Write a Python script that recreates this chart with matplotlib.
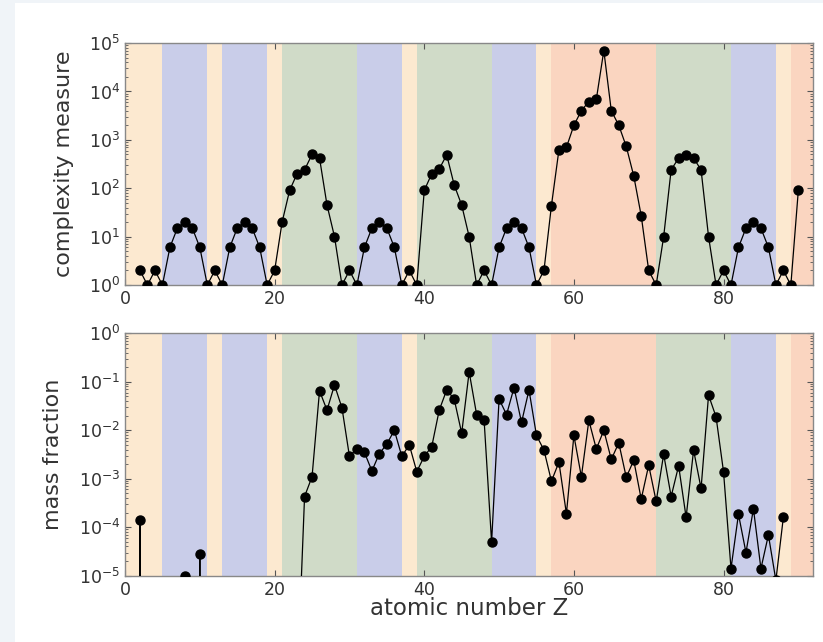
import matplotlib
matplotlib.use('Agg')
import matplotlib.pyplot as plt
from matplotlib.ticker import LogLocator, NullFormatter, FixedLocator
from matplotlib.patches import Rectangle

# ---- data ----
Z_complexity = list(range(2, 91))
complexity = [2, 1, 2, 1, 6, 15, 20, 15, 6, 1,            # 2-11
              2, 1, 6, 15, 20, 15, 6, 1, 2, 20,           # 12-21
              90, 200, 240, 500, 420, 45, 10, 1, 2, 1,    # 22-31
              6, 15, 20, 15, 6, 1, 2, 1, 90, 200,         # 32-41
              250, 490, 117, 45, 10, 1, 2, 1, 6, 15,      # 42-51
              20, 15, 6, 1, 2, 44, 620, 700, 2000, 4000,  # 52-61
              6200, 6900, 70000, 4000, 2000, 730, 180, 27, 2, 1,  # 62-71
              10, 240, 420, 490, 420, 240, 10, 1, 2, 1,   # 72-81
              6, 15, 20, 15, 6, 1, 2, 1, 90]              # 82-90

Z_mass = list(range(1, 89))
mass_fraction = [0, 1.4e-4, 0, 0, 0, 0, 0, 1.0e-5, 0, 2.8e-5,          # 1-10
                 0, 0, 0, 0, 0, 0, 0, 0, 0, 0,                          # 11-20
                 0, 0, 5e-8, 4.3e-4, 1.1e-3, 0.065, 0.026, 0.086, 0.029, 2.9e-3,  # 21-30
                 4.2e-3, 3.5e-3, 1.45e-3, 3.3e-3, 5.2e-3, 0.010, 2.9e-3, 5.0e-3, 1.4e-3, 2.9e-3,  # 31-40
                 4.6e-3, 0.026, 0.068, 0.044, 8.7e-3, 0.16, 0.021, 0.016, 4.9e-5, 0.044,  # 41-50
                 0.021, 0.076, 0.0145, 0.068, 7.8e-3, 3.9e-3, 8.9e-4, 2.2e-3, 1.9e-4, 7.8e-3,  # 51-60
                 1.1e-3, 0.016, 4.1e-3, 0.010, 2.5e-3, 5.5e-3, 1.07e-3, 2.4e-3, 3.8e-4, 1.9e-3,  # 61-70
                 3.4e-4, 3.2e-3, 4.3e-4, 1.85e-3, 1.6e-4, 3.9e-3, 6.3e-4, 0.053, 0.019, 1.4e-3,  # 71-80
                 1.4e-5, 1.85e-4, 3.0e-5, 2.4e-4, 1.4e-5, 6.9e-5, 8e-6, 1.6e-4]  # 81-88

band_start = [0, 5, 11, 13, 19, 21, 31, 37, 39, 49, 55, 57, 71, 81, 87, 89]
band_end = [5, 11, 13, 19, 21, 31, 37, 39, 49, 55, 57, 71, 81, 87, 89, 92]
band_block = ['s', 'p', 's', 'p', 's', 'd', 'p', 's', 'd', 'p', 's', 'f', 'd', 'p', 's', 'f']
block_colors = {'s': '#fce9d0', 'p': '#c9cde9', 'd': '#d0dbc8', 'f': '#fad5c0'}

x_ticks = [0, 20, 40, 60, 80]
x_limits = (0, 92)

text_color = '#333333'
spine_color = '#888888'

fig = plt.figure(figsize=(8.23, 6.42), dpi=100)
fig.patches.append(Rectangle((0, 0), 15 / 823, 1, transform=fig.transFigure,
                             facecolor='#f0f4f8', edgecolor='none', zorder=-5))
fig.patches.append(Rectangle((0, 1 - 3 / 642), 1, 3 / 642, transform=fig.transFigure,
                             facecolor='#f0f4f8', edgecolor='none', zorder=-5))

ax1 = fig.add_axes([0.1519, 0.556, 0.8363, 0.3769])
ax2 = fig.add_axes([0.1519, 0.1033, 0.8363, 0.3775])


def style(ax, ylim, ylabel):
    for s, e, b in zip(band_start, band_end, band_block):
        ax.axvspan(s, e, facecolor=block_colors[b], edgecolor='none', lw=0, zorder=0)
    ax.set_yscale('log', nonpositive='clip')
    ax.set_xlim(*x_limits)
    ax.set_ylim(*ylim)
    ax.xaxis.set_major_locator(FixedLocator(x_ticks))
    ax.yaxis.set_major_locator(LogLocator(base=10, numticks=10))
    ax.yaxis.set_minor_locator(LogLocator(base=10, subs=range(2, 10), numticks=20))
    ax.yaxis.set_minor_formatter(NullFormatter())
    ax.tick_params(which='both', direction='in', top=True, right=True,
                   color='#555555', labelcolor=text_color, labelsize=12.5)
    ax.tick_params(which='major', length=4, width=0.8)
    ax.tick_params(which='minor', length=2, width=0.6)
    for sp in ax.spines.values():
        sp.set_color(spine_color)
        sp.set_linewidth(1.0)
    ax.set_ylabel(ylabel, fontsize=16, color=text_color, labelpad=11)


style(ax1, (1, 1e5), 'complexity measure')
ax1.plot(Z_complexity, complexity, '-o', color='black', lw=0.9, ms=6.5, zorder=3)

style(ax2, (1e-5, 1), 'mass fraction')
ax2.plot(Z_mass, mass_fraction, '-o', color='black', lw=0.9, ms=6.5, zorder=3)
ax2.set_xlabel('atomic number Z', fontsize=16.5, color=text_color, labelpad=-1)

fig.savefig('out.png', dpi=100)
